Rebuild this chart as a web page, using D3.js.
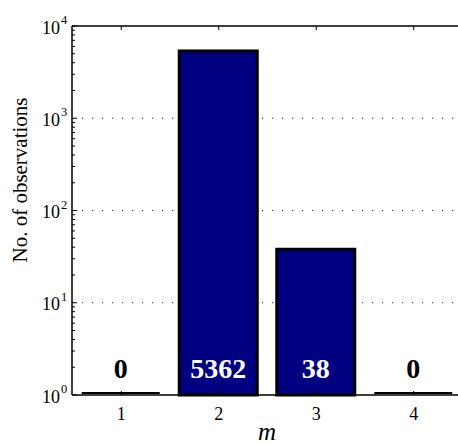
<!DOCTYPE html>
<html>
<head>
<meta charset="utf-8">
<script src="https://cdn.jsdelivr.net/npm/d3@7"></script>
<style>
  html, body { margin: 0; padding: 0; background: #fff; }
  svg { display: block; }
  text { font-family: "Liberation Serif", "Times New Roman", Times, serif; }
</style>
</head>
<body>
<svg id="chart" width="458" height="444"></svg>
<script>
// Number of observations per value of m
const categories = [1, 2, 3, 4];
const counts = [0, 5362, 38, 0];
const yTickExponents = [0, 1, 2, 3, 4];

const svg = d3.select("#chart");
const plot = { left: 72, top: 26, right: 462, bottom: 395 };

const x = d3.scaleLinear().domain([0.5, 4.5]).range([plot.left, plot.right]);
const y = d3.scaleLog().domain([1, 1e4]).range([plot.bottom, plot.top]);
const barWidth = (x(1.8) - x(1));

// dotted horizontal grid at each decade
svg.append("g")
  .selectAll("line")
  .data(yTickExponents.slice(1, -1))
  .join("line")
  .attr("x1", plot.left).attr("x2", plot.right)
  .attr("y1", d => y(Math.pow(10, d))).attr("y2", d => y(Math.pow(10, d)))
  .attr("stroke", "#333")
  .attr("stroke-width", 1)
  .attr("stroke-dasharray", "1.2 8.8")
  .attr("stroke-dashoffset", -10);

// bars
const data = categories.map((c, i) => ({ m: c, n: counts[i] }));
const bars = svg.append("g");
bars.selectAll("rect")
  .data(data.filter(d => d.n > 0))
  .join("rect")
  .attr("x", d => x(d.m) - barWidth / 2)
  .attr("y", d => y(d.n))
  .attr("width", barWidth)
  .attr("height", d => y(1) - y(d.n))
  .attr("fill", "#000080")
  .attr("stroke", "#000")
  .attr("stroke-width", 3);

// empty categories collapse to a line on the baseline
bars.selectAll("line")
  .data(data.filter(d => d.n === 0))
  .join("line")
  .attr("x1", d => x(d.m) - barWidth / 2)
  .attr("x2", d => x(d.m) + barWidth / 2)
  .attr("y1", y(1) - 2).attr("y2", y(1) - 2)
  .attr("stroke", "#000")
  .attr("stroke-width", 2);

// value labels
svg.append("g")
  .selectAll("text")
  .data(data)
  .join("text")
  .attr("x", d => x(d.m))
  .attr("y", 378)
  .attr("text-anchor", "middle")
  .attr("font-size", 28)
  .attr("font-weight", "bold")
  .attr("fill", d => d.n > 0 ? "#fff" : "#000")
  .text(d => d.n);

// axes frame
const frame = svg.append("g").attr("stroke", "#000").attr("stroke-width", 1.5).attr("fill", "none");
frame.append("line").attr("x1", plot.left).attr("x2", plot.right).attr("y1", plot.top).attr("y2", plot.top);
frame.append("line").attr("x1", plot.left).attr("x2", plot.right).attr("y1", plot.bottom).attr("y2", plot.bottom);
frame.append("line").attr("x1", plot.left).attr("x2", plot.left).attr("y1", plot.top).attr("y2", plot.bottom);

// x axis ticks and labels
const xAxis = d3.axisBottom(x).tickValues(categories).tickSize(-4).tickPadding(12).tickFormat(d3.format("d"));
const gx = svg.append("g").attr("transform", `translate(0,${plot.bottom})`).call(xAxis);
gx.select(".domain").remove();
gx.selectAll(".tick line").attr("stroke-width", 1);
gx.selectAll(".tick text").attr("font-size", 18).attr("font-family", null).attr("fill", "#000");
gx.attr("font-family", null);

const gxTop = svg.append("g").attr("transform", `translate(0,${plot.top})`)
  .call(d3.axisTop(x).tickValues(categories).tickSize(-4).tickFormat(""));
gxTop.select(".domain").remove();
gxTop.selectAll(".tick line").attr("stroke-width", 1);

// y axis: minor ticks
const minor = [];
for (let e = 0; e < 4; e++) for (let k = 2; k <= 9; k++) minor.push(k * Math.pow(10, e));
svg.append("g")
  .selectAll("line")
  .data(minor)
  .join("line")
  .attr("x1", plot.left).attr("x2", plot.left + 3)
  .attr("y1", d => y(d)).attr("y2", d => y(d))
  .attr("stroke", "#000").attr("stroke-width", 1);

// y axis: major ticks and power-of-ten labels
const yMajor = svg.append("g");
yMajor.selectAll("line")
  .data(yTickExponents)
  .join("line")
  .attr("x1", plot.left).attr("x2", plot.left + 5)
  .attr("y1", d => y(Math.pow(10, d))).attr("y2", d => y(Math.pow(10, d)))
  .attr("stroke", "#000").attr("stroke-width", 1);

yMajor.selectAll("text.base")
  .data(yTickExponents)
  .join("text")
  .attr("class", "base")
  .attr("y", d => y(Math.pow(10, d)) + 7.5)
  .attr("x", 60)
  .attr("text-anchor", "end")
  .attr("font-size", 18)
  .text("10");
yMajor.selectAll("text.sup")
  .data(yTickExponents)
  .join("text")
  .attr("class", "sup")
  .attr("x", 61)
  .attr("y", d => y(Math.pow(10, d)) - 2)
  .attr("font-size", 12.5)
  .text(d => d);

// axis titles
svg.append("text")
  .attr("transform", "translate(27,180) rotate(-90)")
  .attr("text-anchor", "middle")
  .attr("font-size", 21)
  .text("No. of observations");

svg.append("text")
  .attr("x", (plot.left + plot.right) / 2)
  .attr("y", 440)
  .attr("text-anchor", "middle")
  .attr("font-size", 25)
  .attr("font-style", "italic")
  .text("m");
</script>
</body>
</html>
